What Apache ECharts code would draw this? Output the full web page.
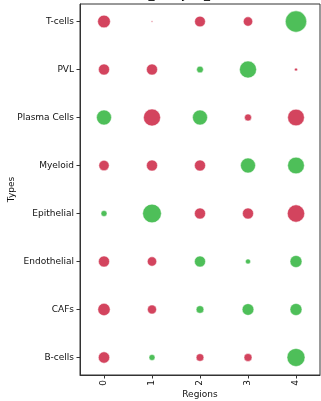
<!DOCTYPE html>
<html><head><meta charset="utf-8">
<script src="https://cdn.jsdelivr.net/npm/echarts@6/dist/echarts.min.js"></script>
<style>html,body{margin:0;padding:0;background:#fff}#c{width:321px;height:401px}</style>
</head><body><div id="c"></div>
<script>
const regions = ['0', '1', '2', '3', '4'];
const types = ['T-cells', 'PVL', 'Plasma Cells', 'Myeloid', 'Epithelial', 'Endothelial', 'CAFs', 'B-cells'];
const tCells      = [-1.27, -0.15, -1.07, -0.93, 2.13];
const pvl         = [-1.10, -1.10, 0.67, 1.70, -0.30];
const plasmaCells = [1.50, -1.70, 1.50, -0.70, -1.67];
const myeloid     = [-1.03, -1.10, -1.10, 1.50, 1.67];
const epithelial  = [0.60, 1.87, -1.10, -1.10, -1.73];
const endothelial = [-1.10, -0.93, 1.10, 0.50, 1.20];
const cafs        = [-1.23, -0.90, 0.77, 1.17, 1.20];
const bCells      = [-1.13, 0.60, -0.77, -0.80, 1.80];
const rows = [tCells, pvl, plasmaCells, myeloid, epithelial, endothelial, cafs, bCells];

const data = [];
rows.forEach((r, yi) => r.forEach((v, xi) => data.push([xi, yi, v])));

const chart = echarts.init(document.getElementById('c'), null, {renderer: 'canvas'});
const font = 'DejaVu Sans';
chart.setOption({
  animation: false,
  textStyle: {fontFamily: font},
  title: {
    text: 'CN_Analysis_Enrichment', left: 200, textAlign: 'center', top: -16,
    textStyle: {fontFamily: font, fontSize: 12, fontWeight: 'normal', color: '#000'}
  },
  grid: {left: 80, right: 1, top: 4, bottom: 26, show: true, borderColor: '#333', borderWidth: 1,
         containLabel: false, outerBoundsMode: 'none'},
  xAxis: {
    type: 'category', data: regions, boundaryGap: true,
    name: 'Regions', nameLocation: 'middle', nameGap: 15, nameMoveOverlap: false,
    nameTextStyle: {fontFamily: font, fontSize: 9, color: '#111'},
    axisLine: {show: true, onZero: false, lineStyle: {color: '#333', width: 1}},
    axisTick: {show: true, alignWithLabel: true, length: 3.5, lineStyle: {color: '#333'}},
    axisLabel: {rotate: 90, margin: 5, fontFamily: font, fontSize: 9, color: '#111'},
    splitLine: {show: false}
  },
  yAxis: {
    type: 'value', inverse: true, min: -0.365, max: 7.365,
    name: 'Types', nameLocation: 'middle', nameGap: 64, nameRotate: 90, nameMoveOverlap: false,
    nameTextStyle: {fontFamily: font, fontSize: 9, color: '#111'},
    axisLine: {show: true, onZero: false, lineStyle: {color: '#333', width: 1}},
    axisTick: {show: true, length: 3.5, customValues: [0,1,2,3,4,5,6,7], lineStyle: {color: '#333'}},
    axisLabel: {margin: 6, fontFamily: font, fontSize: 9, color: '#111',
      customValues: [0,1,2,3,4,5,6,7], formatter: v => types[Math.round(v)]},
    splitLine: {show: false}
  },
  series: [{
    type: 'scatter', data: data,
    symbolSize: d => Math.abs(d[2]) * 10,
    itemStyle: {
      color: p => p.data[2] >= 0 ? '#44bc50' : '#d13a55',
      borderColor: '#fff', borderWidth: 0.5, opacity: 0.95
    }
  }]
});
</script></body></html>
